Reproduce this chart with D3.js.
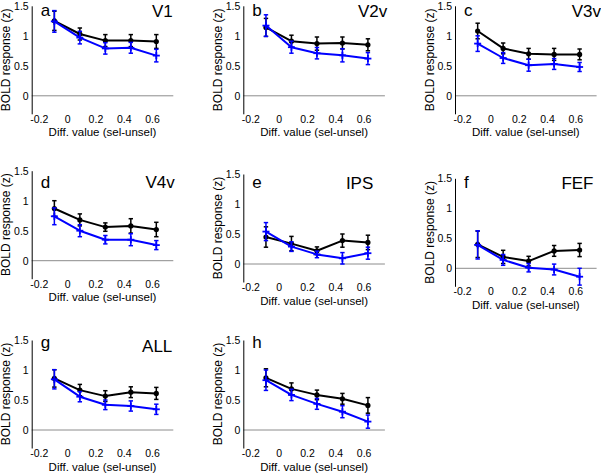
<!DOCTYPE html>
<html>
<head>
<meta charset="utf-8">
<script src="https://d3js.org/d3.v7.min.js"></script>
<style>
  html, body { margin: 0; padding: 0; background: #fff; }
  svg { display: block; font-family: Arial, "Liberation Sans", sans-serif; }
</style>
</head>
<body>
<svg id="chart" width="601" height="474"></svg>
<script>
// ---------------- data ----------------
const panelLetters = ["a", "b", "c", "d", "e", "f", "g", "h"];
const regionNames = ["V1", "V2v", "V3v", "V4v", "IPS", "FEF", "ALL", ""];
const diffValues = [-0.09, 0.09, 0.27, 0.45, 0.63];
const xTickValues = [-0.2, 0, 0.2, 0.4, 0.6];
const xTickLabels = ["-0.2", "0", "0.2", "0.4", "0.6"];
const yTickValues = [0, 0.5, 1, 1.5];
const yTickLabels = ["0", "0.5", "1", "1.5"];
const xLabel = "Diff. value (sel-unsel)";
const yLabel = "BOLD response (z)";

// black series (mean, sem)
const blackMean = [
  [1.25, 1.03, 0.92, 0.92, 0.905],
  [1.14, 0.91, 0.87, 0.88, 0.85],
  [1.08, 0.79, 0.70, 0.69, 0.69],
  [0.87, 0.68, 0.56, 0.58, 0.52],
  [0.45, 0.34, 0.22, 0.39, 0.36],
  [0.40, 0.19, 0.12, 0.29, 0.305],
  [0.86, 0.665, 0.565, 0.63, 0.61],
  [0.87, 0.685, 0.585, 0.52, 0.41]
];
const blackErr = [
  [0.16, 0.10, 0.10, 0.10, 0.115],
  [0.15, 0.10, 0.11, 0.10, 0.10],
  [0.13, 0.09, 0.09, 0.10, 0.09],
  [0.13, 0.10, 0.07, 0.12, 0.12],
  [0.17, 0.12, 0.065, 0.11, 0.12],
  [0.22, 0.11, 0.08, 0.09, 0.11],
  [0.145, 0.095, 0.09, 0.09, 0.10],
  [0.15, 0.10, 0.08, 0.09, 0.13]
];
// blue series (mean, sem)
const blueMean = [
  [1.24, 0.97, 0.79, 0.80, 0.67],
  [1.17, 0.81, 0.71, 0.675, 0.62],
  [0.87, 0.63, 0.51, 0.53, 0.48],
  [0.74, 0.50, 0.35, 0.35, 0.26],
  [0.54, 0.29, 0.16, 0.095, 0.18],
  [0.39, 0.14, 0.01, -0.02, -0.14],
  [0.845, 0.555, 0.42, 0.40, 0.345],
  [0.83, 0.585, 0.435, 0.305, 0.14]
];
const blueErr = [
  [0.18, 0.105, 0.095, 0.09, 0.105],
  [0.18, 0.10, 0.095, 0.11, 0.10],
  [0.13, 0.09, 0.10, 0.09, 0.075],
  [0.14, 0.10, 0.07, 0.10, 0.075],
  [0.15, 0.08, 0.055, 0.095, 0.10],
  [0.235, 0.09, 0.07, 0.09, 0.14],
  [0.16, 0.085, 0.08, 0.085, 0.085],
  [0.17, 0.095, 0.09, 0.10, 0.11]
];

// ---------------- layout ----------------
const axLeft = [31.7, 243.3, 455, 31.7, 243.3, 455, 31.7, 243.3];
const axTop = [5.8, 5.8, 5.8, 170.7, 174, 178.3, 340, 340];
const labelBase = [16, 16, 16, 187.5, 187.5, 188.3, 348, 348];
const titleBase = [16.5, 16.5, 16.5, 188, 188.5, 188.5, 352, 352];
const titleRight = [141, 144, 146, 143, 130, 138.5, 140.6, 140];
const axW = 141.6, axH = 108;

const svg = d3.select("#chart");
const BLUE = "#0000ff";
const FONT = "Arial, 'Liberation Sans', sans-serif";

panelLetters.forEach((letter, i) => {
  const g = svg.append("g").attr("transform", `translate(${axLeft[i]},${axTop[i]})`);
  const x = d3.scaleLinear().domain([-0.25, 0.75]).range([0, axW]);
  const y = d3.scaleLinear().domain([-0.3, 1.5]).range([axH, 0]);

  // zero line
  g.append("line")
    .attr("x1", 0).attr("x2", axW)
    .attr("y1", y(0)).attr("y2", y(0))
    .attr("stroke", "#8c8c8c").attr("stroke-width", 1);

  // y axis
  const yAxis = d3.axisLeft(y).tickValues(yTickValues)
    .tickFormat((d, k) => yTickLabels[k]).tickSize(0).tickPadding(3);
  const ya = g.append("g").call(yAxis);
  ya.select(".domain").attr("stroke", "#000").attr("stroke-width", 1);
  ya.selectAll("text").attr("font-size", 10.5).attr("fill", "#000")
    .attr("font-family", FONT);

  // x axis (labels only)
  const xAxis = d3.axisBottom(x).tickValues(xTickValues)
    .tickFormat((d, k) => xTickLabels[k]).tickSize(0).tickPadding(1.5);
  const xa = g.append("g").attr("transform", `translate(0,${axH})`).call(xAxis);
  xa.select(".domain").remove();
  xa.selectAll("text").attr("font-size", 10.5).attr("fill", "#000")
    .attr("font-family", FONT);

  // axis labels
  g.append("text")
    .attr("x", axW / 2).attr("y", axH + 22.5)
    .attr("text-anchor", "middle").attr("font-size", 11.5)
    .text(xLabel);
  g.append("text")
    .attr("transform", `translate(-21.5,${axH / 2}) rotate(-90)`)
    .attr("text-anchor", "middle").attr("font-size", 12)
    .text(yLabel);

  // series
  const series = [
    { mean: blackMean[i], err: blackErr[i], color: "#000", marker: "dot" },
    { mean: blueMean[i], err: blueErr[i], color: BLUE, marker: "plus" }
  ];
  series.forEach(s => {
    const pts = diffValues.map((xv, k) => ({ x: xv, m: s.mean[k], e: s.err[k] }));
    const clip = v => Math.max(-0.3, Math.min(1.5, v));
    // error bars
    const eb = g.append("g").attr("stroke", s.color).attr("stroke-width", 1.5);
    pts.forEach(p => {
      const lo = clip(p.m - p.e), hi = clip(p.m + p.e);
      eb.append("line").attr("x1", x(p.x)).attr("x2", x(p.x))
        .attr("y1", y(lo)).attr("y2", y(hi));
      [p.m - p.e, p.m + p.e].forEach(v => {
        if (v >= -0.3 && v <= 1.5) {
          eb.append("line").attr("x1", x(p.x) - 2.2).attr("x2", x(p.x) + 2.2)
            .attr("y1", y(v)).attr("y2", y(v));
        }
      });
    });
    // line
    g.append("path").datum(pts)
      .attr("fill", "none").attr("stroke", s.color).attr("stroke-width", 2)
      .attr("stroke-linejoin", "round")
      .attr("d", d3.line().x(p => x(p.x)).y(p => y(p.m)));
    // markers
    if (s.marker === "dot") {
      g.append("g").selectAll("circle").data(pts).join("circle")
        .attr("cx", p => x(p.x)).attr("cy", p => y(p.m)).attr("r", 2.6)
        .attr("fill", s.color);
    } else {
      const mk = g.append("g").attr("stroke", s.color).attr("stroke-width", 1.8);
      pts.forEach(p => {
        mk.append("line").attr("x1", x(p.x) - 3.5).attr("x2", x(p.x) + 3.5)
          .attr("y1", y(p.m)).attr("y2", y(p.m));
        mk.append("line").attr("x1", x(p.x)).attr("x2", x(p.x))
          .attr("y1", y(p.m) - 3.5).attr("y2", y(p.m) + 3.5);
      });
    }
  });

  // panel letter
  svg.append("text")
    .attr("x", axLeft[i] + 9).attr("y", labelBase[i])
    .attr("font-size", 17).text(letter);
  // region title
  if (regionNames[i]) {
    svg.append("text")
      .attr("x", axLeft[i] + titleRight[i]).attr("y", titleBase[i])
      .attr("text-anchor", "end").attr("font-size", 17)
      .text(regionNames[i]);
  }
});
</script>
</body>
</html>
